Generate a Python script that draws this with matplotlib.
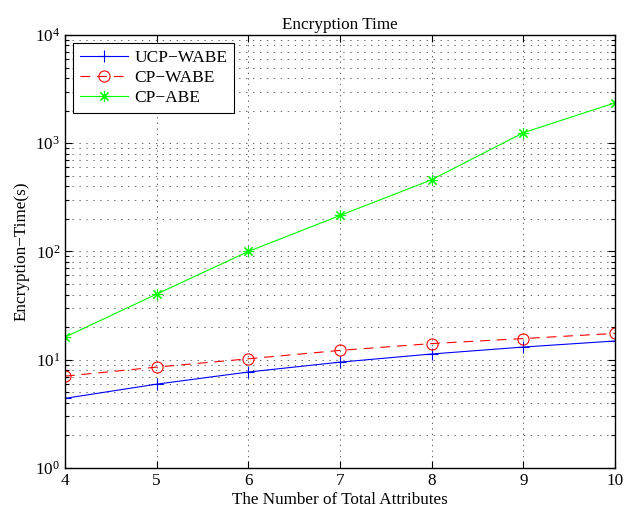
import numpy as np
import matplotlib
matplotlib.use('Agg')
import matplotlib.pyplot as plt
from matplotlib.ticker import LogLocator, NullFormatter

plt.rcParams['font.family'] = ['Liberation Serif', 'DejaVu Serif']
plt.rcParams['mathtext.fontset'] = 'custom'
plt.rcParams['mathtext.rm'] = 'Liberation Serif'
plt.rcParams['lines.scale_dashes'] = False

attrs = [4, 5, 6, 7, 8, 9, 10]
ucp_wabe = [4.4, 5.95, 7.7, 9.5, 11.3, 13.1, 14.9]
cp_wabe = [7.05, 8.55, 10.2, 12.2, 14.1, 15.7, 17.5]
cp_abe = [16.2, 40.4, 100, 215, 460, 1250, 2360]

fig = plt.figure(figsize=(6.24, 5.14), dpi=100)
ax = fig.add_axes([0.1042, 0.0895, 0.8814, 0.8425])

ax.plot(attrs, ucp_wabe, color='b', lw=0.8, marker='+', ms=9, mew=0.8,
        label='UCP\u2212WABE')
ax.plot(attrs, cp_wabe, color='r', lw=0.8, ls='--', dashes=(7, 5),
        marker='o', ms=8, mew=0.8, mfc='none', label='CP\u2212WABE')
ax.plot(attrs, cp_abe, color=(0, 1, 0), lw=0.8, marker=(8, 2, 0), ms=8,
        mew=0.8, label='CP\u2212ABE')

ax.set_yscale('log')
ax.set_xlim(4, 10)
ax.set_ylim(1, 1e4)
ax.set_xticks(attrs)
ax.yaxis.set_major_locator(LogLocator(base=10, numticks=10))
ax.yaxis.set_minor_locator(LogLocator(base=10, subs=np.arange(2, 10), numticks=50))
ax.yaxis.set_minor_formatter(NullFormatter())

ax.grid(True, which='major', axis='x', ls=(0, (1, 3)), lw=0.6, color='0.3')
ax.grid(True, which='both', axis='y', ls=(0, (1, 4)), lw=0.6, color='0.3')

ax.tick_params(which='both', direction='in', top=True, right=True,
               labelsize=12.3, width=0.8)
ax.tick_params(which='major', length=5)
ax.tick_params(which='minor', length=3)
for s in ax.spines.values():
    s.set_linewidth(1.0)

ax.set_title('Encryption Time', fontsize=12.3, pad=4)
ax.set_xlabel('The Number of Total Attributes', fontsize=12.3, labelpad=2)
ax.set_ylabel('Encryption\u2212Time(s)', fontsize=12.3, labelpad=4)

leg = ax.legend(loc='upper left', fontsize=12.5, fancybox=False, framealpha=1,
                edgecolor='k', borderpad=0.4, labelspacing=0.22,
                handlelength=2.8, handletextpad=0.35, borderaxespad=0.45)
leg.get_frame().set_linewidth(0.8)

fig.savefig('out.png', dpi=100)
